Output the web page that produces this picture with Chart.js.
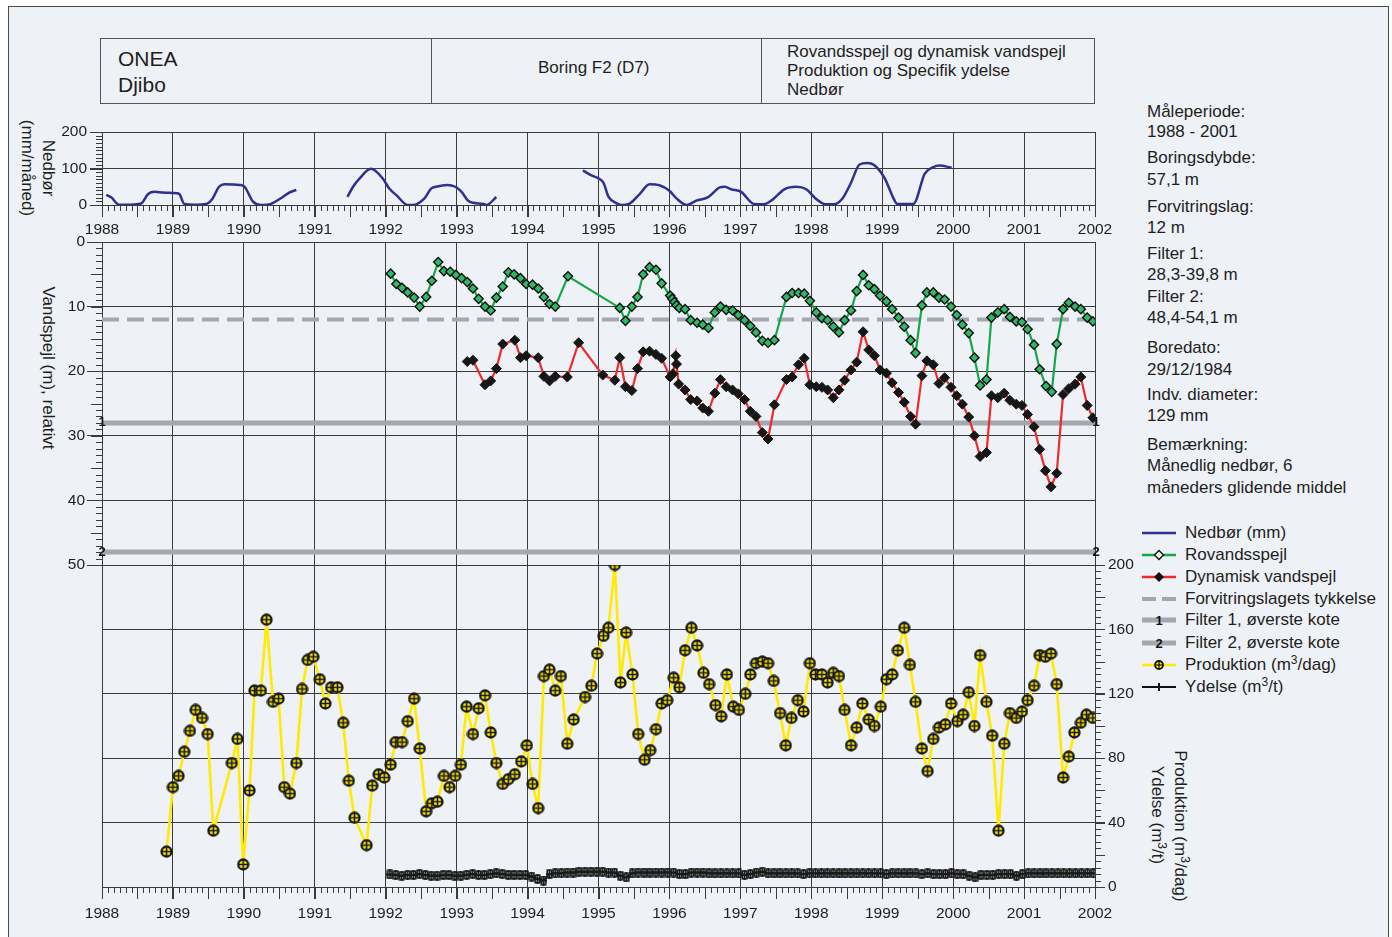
<!DOCTYPE html>
<html>
<head>
<meta charset="utf-8">
<script src="https://cdn.jsdelivr.net/npm/chart.js"></script>
<style>
body{margin:0;background:#fff;font-family:"Liberation Sans",Arial,sans-serif;color:#1e1e1e}
#page{position:relative;width:1392px;height:937px;overflow:hidden;background:#fff}
#frame{position:absolute;left:8px;top:6px;width:1379px;height:940px;border:1px solid #4a4a4a;background:#eef1f6}
canvas{position:absolute;left:0}
.t{position:absolute;white-space:nowrap;font-size:17px;line-height:20px}
.rot{position:absolute;white-space:nowrap;font-size:17px;line-height:20px;transform:translate(-50%,-50%) rotate(90deg)}
#head{position:absolute;left:100px;top:38px;width:993px;height:64px;border:1px solid #555}
.div{position:absolute;top:0;width:1px;height:64px;background:#555}
.lg{position:absolute;left:1142px;height:20px;white-space:nowrap;font-size:17px;line-height:20px}
.lg svg{position:absolute;left:0;top:4px}
.lg span{position:absolute;left:43px;top:0}
sup{font-size:12px;vertical-align:6px;line-height:0}
</style>
</head>
<body>
<div id="page">
<div id="frame"></div>

<div id="head">
  <div class="div" style="left:330px"></div>
  <div class="div" style="left:660px"></div>
</div>
<div class="t" style="left:118px;top:47px;font-size:21px;line-height:24px">ONEA</div>
<div class="t" style="left:118px;top:73px;font-size:21px;line-height:24px">Djibo</div>
<div class="t" style="left:538px;top:58px">Boring F2 (D7)</div>
<div class="t" style="left:787px;top:42px;line-height:19px">Rovandsspejl og dynamisk vandspejl<br>Produktion og Specifik ydelse<br>Nedbør</div>

<div class="t" style="left:1147px;top:102px">Måleperiode:</div>
<div class="t" style="left:1147px;top:122px">1988 - 2001</div>
<div class="t" style="left:1147px;top:148px">Boringsdybde:</div>
<div class="t" style="left:1147px;top:170px">57,1 m</div>
<div class="t" style="left:1147px;top:197px">Forvitringslag:</div>
<div class="t" style="left:1147px;top:218px">12 m</div>
<div class="t" style="left:1147px;top:244px">Filter 1:</div>
<div class="t" style="left:1147px;top:265px">28,3-39,8 m</div>
<div class="t" style="left:1147px;top:287px">Filter 2:</div>
<div class="t" style="left:1147px;top:308px">48,4-54,1 m</div>
<div class="t" style="left:1147px;top:338px">Boredato:</div>
<div class="t" style="left:1147px;top:360px">29/12/1984</div>
<div class="t" style="left:1147px;top:385px">Indv. diameter:</div>
<div class="t" style="left:1147px;top:406px">129 mm</div>
<div class="t" style="left:1147px;top:435px">Bemærkning:</div>
<div class="t" style="left:1147px;top:456px">Månedlig nedbør, 6</div>
<div class="t" style="left:1147px;top:478px">måneders glidende middel</div>

<div class="rot" style="left:48px;top:168px">Nedbør</div>
<div class="rot" style="left:27px;top:168px">(mm/måned)</div>
<div class="rot" style="left:48px;top:368px">Vandspejl (m), relativt</div>
<div class="rot" style="left:1180px;top:826px">Produktion (m<sup>3</sup>/dag)</div>
<div class="rot" style="left:1157px;top:815px">Ydelse (m<sup>3</sup>/t)</div>

<div class="lg" style="top:523px"><svg width="36" height="12"><line x1="0" y1="6" x2="34" y2="6" stroke="#2e3192" stroke-width="2.5"/></svg><span>Nedbør (mm)</span></div>
<div class="lg" style="top:545px"><svg width="36" height="12"><line x1="0" y1="6" x2="34" y2="6" stroke="#12a84a" stroke-width="2.5"/><polygon points="17,1.5 21.5,6 17,10.5 12.5,6" fill="#f4f8f4" stroke="#111" stroke-width="1.4"/></svg><span>Rovandsspejl</span></div>
<div class="lg" style="top:567px"><svg width="36" height="12"><line x1="0" y1="6" x2="34" y2="6" stroke="#ee2a2a" stroke-width="2.5"/><polygon points="17,1 22,6 17,11 12,6" fill="#111"/></svg><span>Dynamisk vandspejl</span></div>
<div class="lg" style="top:589px"><svg width="36" height="12"><line x1="0" y1="6" x2="34" y2="6" stroke="#a3a8b0" stroke-width="4" stroke-dasharray="14 6"/></svg><span>Forvitringslagets tykkelse</span></div>
<div class="lg" style="top:610px"><svg width="36" height="14"><line x1="0" y1="6" x2="34" y2="6" stroke="#a3a8b0" stroke-width="5"/><text x="17" y="11" font-size="13" font-weight="bold" text-anchor="middle" fill="#111" font-family="Liberation Sans, Arial">1</text></svg><span>Filter 1, øverste kote</span></div>
<div class="lg" style="top:633px"><svg width="36" height="14"><line x1="0" y1="6" x2="34" y2="6" stroke="#a3a8b0" stroke-width="5"/><text x="17" y="11" font-size="13" font-weight="bold" text-anchor="middle" fill="#111" font-family="Liberation Sans, Arial">2</text></svg><span>Filter 2, øverste kote</span></div>
<div class="lg" style="top:655px"><svg width="36" height="12"><line x1="0" y1="6" x2="34" y2="6" stroke="#ffeb00" stroke-width="2.5"/><circle cx="17" cy="6" r="4" fill="#ffeb00" stroke="#111" stroke-width="1.8"/><line x1="13" y1="6" x2="21" y2="6" stroke="#111" stroke-width="1.2"/><line x1="17" y1="2" x2="17" y2="10" stroke="#111" stroke-width="1.2"/></svg><span>Produktion (m<sup>3</sup>/dag)</span></div>
<div class="lg" style="top:677px"><svg width="36" height="12"><line x1="0" y1="6" x2="34" y2="6" stroke="#111" stroke-width="2.2"/><line x1="17" y1="2" x2="17" y2="10" stroke="#111" stroke-width="2"/><line x1="14" y1="6" x2="20" y2="6" stroke="#111" stroke-width="2"/></svg><span>Ydelse (m<sup>3</sup>/t)</span></div>

<canvas id="c1" width="1392" height="127" style="top:118px"></canvas>
<canvas id="c2" width="1392" height="352" style="top:228px"></canvas>
<canvas id="c3" width="1392" height="387" style="top:550px"></canvas>
</div>

<script>
// Nedbør (mm/måned), 6 mdr glidende middel - null = hul i serien
const nedborDates = [1988.06,1988.13,1988.24,1988.40,1988.55,1988.65,1988.74,1988.86,1989.05,1989.09,1989.16,1989.30,1989.47,1989.56,1989.65,1989.73,1989.94,1990.01,1990.13,1990.24,1990.38,1990.55,1990.64,1990.74,
  1991.0,
  1991.46,1991.54,1991.63,1991.79,1991.96,1992.05,1992.15,1992.31,1992.38,1992.55,1992.64,1992.71,1992.87,1992.98,1993.07,1993.16,1993.23,1993.38,1993.42,1993.56,
  1994.0,
  1994.78,1994.90,1995.00,1995.07,1995.14,1995.25,1995.32,1995.44,1995.58,1995.72,1995.86,1996.00,1996.10,1996.24,1996.38,1996.54,1996.71,1996.78,1996.87,1997.01,1997.19,1997.33,1997.45,1997.62,1997.79,1997.93,1998.06,1998.20,1998.32,1998.44,1998.56,1998.68,1998.79,1998.89,1999.03,1999.17,1999.21,1999.44,1999.60,1999.72,1999.81,1999.98];
const nedborValues = [28,21,1,1,4,30,36,34,32,30,3,1,3,18,50,57,55,50,9,0,3,22,34,41,
  null,
  22,50,72,99,72,45,27,0,0,19,45,50,55,50,36,12,6,3,0,22,
  null,
  95,81,73,61,23,5,0,4,30,57,54,39,18,0,12,21,48,50,43,36,3,2,14,43,50,43,18,2,2,18,61,111,115,109,75,14,3,3,86,104,108,102];

// Rovandsspejl (m)
const roDates = [1992.07,1992.15,1992.23,1992.31,1992.40,1992.48,1992.57,1992.65,1992.74,1992.82,1992.91,1992.99,1993.07,1993.15,1993.23,1993.31,1993.40,1993.48,1993.56,1993.65,1993.73,1993.81,1993.90,1993.98,1994.07,1994.15,1994.23,1994.31,1994.39,1994.57,
  1995.30,1995.38,1995.47,1995.55,1995.63,1995.72,1995.81,1995.89,1996.01,1996.04,1996.07,1996.10,1996.14,1996.22,1996.30,1996.39,1996.47,1996.55,1996.64,1996.72,1996.80,1996.89,1996.97,1997.06,1997.14,1997.22,1997.31,1997.39,1997.48,
  1997.65,1997.73,1997.82,1997.90,1997.98,1998.07,1998.15,1998.23,1998.31,1998.39,1998.47,1998.56,1998.64,1998.73,1998.81,1998.89,1998.97,1999.06,1999.14,1999.23,1999.31,1999.40,1999.47,1999.56,1999.63,1999.72,1999.80,1999.88,1999.97,
  2000.05,2000.13,2000.22,2000.30,2000.38,2000.47,2000.54,2000.63,2000.72,2000.80,2000.89,2000.97,2001.05,2001.14,2001.22,2001.31,2001.39,2001.46,2001.55,2001.63,2001.72,2001.80,2001.89,2001.97];
const roValues = [4.9,6.5,7.1,7.8,8.6,10.0,8.5,6.0,3.1,4.5,4.6,5.1,5.6,6.2,7.2,8.8,10.0,10.6,8.6,6.9,4.7,5.0,5.6,6.5,6.6,7.2,8.5,9.6,10.0,5.3,
  10.2,12.2,10.0,8.5,5.0,3.9,4.3,6.4,8.3,8.8,9.3,9.8,10.2,10.4,12.1,12.5,12.8,13.3,10.9,10.0,10.5,10.6,11.3,12.1,13.0,14.0,15.3,15.6,15.2,
  8.5,7.9,7.9,8.0,9.1,10.9,11.8,12.1,13.1,14.0,12.1,10.6,7.6,5.1,6.7,7.3,8.3,9.2,10.4,11.7,13.1,15.2,17.2,9.8,7.8,7.8,8.6,8.9,10.0,
  11.3,12.8,14.1,17.9,22.2,21.3,11.7,10.9,10.4,11.6,12.3,12.4,13.5,15.9,19.7,22.3,23.2,15.8,10.4,9.4,10.0,10.4,11.7,12.3];

// Dynamisk vandspejl (m)
const dynDates = [1993.15,1993.23,1993.40,1993.48,1993.56,1993.65,1993.82,1993.90,1993.98,1994.15,1994.23,1994.31,1994.39,1994.56,1994.72,
  1995.06,1995.23,1995.30,1995.38,1995.47,1995.55,1995.63,1995.72,1995.81,1995.89,1996.01,1996.05,1996.09,1996.10,1996.13,1996.22,1996.30,1996.39,1996.47,1996.55,1996.64,1996.72,1996.80,1996.89,1996.97,1997.06,1997.14,1997.22,1997.31,1997.39,1997.48,
  1997.65,1997.73,1997.82,1997.90,1997.98,1998.07,1998.15,1998.23,1998.31,1998.39,1998.47,1998.56,1998.64,1998.73,1998.81,1998.89,1998.97,1999.06,1999.14,1999.23,1999.31,1999.40,1999.47,1999.56,1999.63,1999.72,1999.80,1999.88,1999.97,
  2000.05,2000.13,2000.22,2000.30,2000.38,2000.47,2000.54,2000.63,2000.72,2000.80,2000.89,2000.97,2001.05,2001.14,2001.22,2001.30,2001.38,2001.46,2001.55,2001.63,2001.72,2001.80,2001.89,2001.97];
const dynValues = [18.5,18.3,22.1,21.5,19.6,15.8,15.2,17.9,17.6,17.9,20.8,21.5,20.8,20.9,15.6,
  20.6,21.4,17.9,22.4,23.0,19.6,17.0,16.9,17.4,18.0,20.9,20.4,17.6,18.9,22.0,22.9,24.4,24.6,25.7,26.2,23.4,21.3,22.4,22.9,23.5,24.4,26.2,27.0,29.5,30.5,25.2,
  21.3,20.9,19.0,18.0,22.1,22.4,22.5,22.9,24.1,22.9,21.4,19.8,18.6,13.9,16.7,17.6,19.8,20.3,21.8,23.3,24.8,27.0,28.2,20.7,18.4,19.0,21.9,21.0,22.5,
  23.8,25.1,27.1,30.0,33.2,32.6,23.8,24.1,23.4,24.5,25.1,25.3,26.7,28.6,32.1,35.4,37.9,35.8,23.6,22.7,22.0,20.9,25.3,27.2];

// Referencelinjer (m)
const forvitringLevel = 12;
const filterLevels = [28, 48];
const filterNames = ['1', '2'];

// Produktion (m3/dag)
const prodDates = [1988.91,1989.00,1989.08,1989.16,1989.24,1989.32,1989.41,1989.49,1989.57,1989.83,1989.91,1989.99,1990.08,1990.15,1990.24,1990.32,1990.41,1990.49,1990.57,1990.65,1990.74,1990.82,1990.90,1990.98,
  1991.07,1991.15,1991.23,1991.32,1991.40,1991.48,1991.56,1991.73,1991.81,1991.90,1991.98,1992.07,1992.14,1992.23,1992.31,1992.40,1992.48,1992.57,1992.65,1992.73,1992.82,1992.90,1992.98,
  1993.06,1993.14,1993.23,1993.31,1993.40,1993.48,1993.56,1993.65,1993.73,1993.82,1993.91,1993.99,1994.07,1994.15,1994.23,1994.31,1994.39,1994.47,1994.56,1994.65,1994.81,1994.90,1994.98,
  1995.07,1995.14,1995.23,1995.31,1995.39,1995.48,1995.56,1995.65,1995.73,1995.81,1995.89,1995.97,1996.06,1996.14,1996.22,1996.31,1996.39,1996.48,1996.56,1996.65,1996.73,1996.81,1996.90,1996.98,
  1997.07,1997.14,1997.22,1997.31,1997.39,1997.47,1997.56,1997.64,1997.72,1997.81,1997.89,1997.98,1998.06,1998.15,1998.23,1998.31,1998.39,1998.47,1998.56,1998.64,1998.72,1998.81,1998.89,1998.98,
  1999.06,1999.14,1999.22,1999.31,1999.39,1999.47,1999.56,1999.64,1999.72,1999.80,1999.89,1999.97,2000.06,2000.14,2000.22,2000.30,2000.38,2000.47,2000.55,2000.64,2000.72,2000.80,2000.89,2000.97,
  2001.05,2001.14,2001.22,2001.30,2001.38,2001.46,2001.55,2001.63,2001.71,2001.80,2001.88,2001.97];
const prodValues = [22,62,69,84,97,110,105,95,35,77,92,14,60,122,122,166,115,117,62,58,77,123,141,143,
  129,114,124,124,102,66,43,26,63,70,68,76,90,90,103,117,86,47,52,53,69,62,69,
  76,112,95,111,119,96,77,64,67,70,78,88,64,49,131,135,122,131,89,104,118,125,145,
  156,161,200,127,158,132,95,79,85,98,114,116,130,124,147,161,150,133,126,113,106,132,112,110,
  120,132,139,140,139,128,108,88,105,116,109,139,132,132,127,133,131,110,88,99,114,104,100,112,
  129,132,147,161,138,115,86,72,92,99,101,114,103,107,121,100,144,115,94,35,89,108,105,109,
  116,125,144,143,145,126,68,81,96,102,107,105];

// Ydelse (m3/t), en værdi pr. måned
const ydelseYears = [1992,1993,1994,1995,1996,1997,1998,1999,2000,2001];
const ydelse1992 = [7.8,7.5,7.0,7.5,7.5,8.0,7.5,7.0,7.0,7.5,7.5,7.0];
const ydelse1993 = [7.0,7.5,8.0,7.5,7.5,8.0,8.5,8.0,7.5,7.5,7.5,7.5];
const ydelse1994 = [6.5,5.0,4.0,8.0,8.5,8.5,9.0,9.0,9.5,9.5,9.5,9.5];
const ydelse1995 = [9.5,9.0,9.0,7.0,6.0,8.5,9.0,9.0,9.0,9.0,9.0,9.0];
const ydelse1996 = [9.0,8.0,8.0,9.0,9.0,9.0,8.5,8.5,8.5,8.5,8.5,8.5];
const ydelse1997 = [7.5,8.0,9.0,9.5,8.5,8.5,8.5,8.5,8.5,8.5,8.0,8.5];
const ydelse1998 = [8.5,8.5,8.5,8.5,8.5,8.5,8.5,8.5,8.5,8.5,8.5,8.5];
const ydelse1999 = [8.0,8.5,8.5,8.5,8.5,8.5,8.0,8.5,8.0,8.0,8.0,8.5];
const ydelse2000 = [8.0,8.0,7.0,6.0,7.5,7.5,7.5,8.0,8.0,8.0,7.0,8.0];
const ydelse2001 = [8.5,8.5,8.5,8.5,8.5,8.5,8.5,8.5,8.5,8.5,8.5,8.5];
const ydelseRows = [ydelse1992,ydelse1993,ydelse1994,ydelse1995,ydelse1996,ydelse1997,ydelse1998,ydelse1999,ydelse2000,ydelse2001];

const xMin = 1988, xMax = 2002;

Chart.defaults.font.family = '"Liberation Sans", Arial, sans-serif';
Chart.defaults.font.size = 15.5;
Chart.defaults.color = '#1e1e1e';

const pairs = (xs, ys) => xs.map((x, i) => ({x: x, y: ys[i]}));
const ydelseData = [];
ydelseYears.forEach((yr, r) => ydelseRows[r].forEach((v, m) => ydelseData.push({x: yr + (m + 0.7) / 12, y: v})));

// markør-billeder
function prodMarker() {
  const c = document.createElement('canvas');
  c.width = 13; c.height = 13;
  const g = c.getContext('2d');
  g.beginPath(); g.arc(6.5, 6.5, 5, 0, Math.PI * 2);
  g.fillStyle = '#ffeb00'; g.fill();
  g.lineWidth = 2.3; g.strokeStyle = '#1a1a1a'; g.stroke();
  g.lineWidth = 1.6;
  g.beginPath(); g.moveTo(1.5, 6.5); g.lineTo(11.5, 6.5); g.moveTo(6.5, 1.5); g.lineTo(6.5, 11.5); g.stroke();
  return c;
}
function ydelseMarker() {
  const c = document.createElement('canvas');
  c.width = 7; c.height = 10;
  const g = c.getContext('2d');
  g.strokeStyle = '#1a1a1a'; g.lineWidth = 1.6;
  g.strokeRect(1.2, 1.2, 4.6, 7.6);
  g.lineWidth = 2;
  g.beginPath(); g.moveTo(0, 5); g.lineTo(7, 5); g.moveTo(3.5, 0); g.lineTo(3.5, 10); g.stroke();
  return c;
}

const minorTicks = {
  id: 'minorTicks',
  afterDraw(chart, args, o) {
    const ctx = chart.ctx;
    ctx.save();
    ctx.strokeStyle = '#3a3a3a';
    ctx.lineWidth = 1;
    (o.items || []).forEach(m => {
      const s = chart.scales[m.scale];
      const n = Math.round((s.max - s.min) / m.step);
      for (let i = 0; i <= n; i++) {
        const len = (i % m.every === 0) ? m.long : m.short;
        const p = Math.round(s.getPixelForValue(s.min + i * m.step)) + 0.5;
        ctx.beginPath();
        if (m.side === 'bottom') { ctx.moveTo(p, s.top); ctx.lineTo(p, s.top + len); }
        else if (m.side === 'left') { ctx.moveTo(s.right - len, p); ctx.lineTo(s.right, p); }
        else { ctx.moveTo(s.left, p); ctx.lineTo(s.left + len, p); }
        ctx.stroke();
      }
    });
    ctx.restore();
  }
};

const filterLabels = {
  id: 'filterLabels',
  afterDatasetsDraw(chart) {
    const s = chart.scales.y, ctx = chart.ctx, a = chart.chartArea;
    ctx.save();
    ctx.font = 'bold 13px "Liberation Sans", Arial';
    ctx.fillStyle = '#111';
    ctx.textAlign = 'center';
    ctx.textBaseline = 'middle';
    filterLevels.forEach((lv, i) => {
      const y = s.getPixelForValue(lv);
      ctx.fillText(filterNames[i], a.left, y);
      ctx.fillText(filterNames[i], a.right + 1, y);
    });
    ctx.restore();
  }
};

const gridCol = '#3c3c3c';

function xScale(showLabels, height, pad) {
  return {
    type: 'linear', min: xMin, max: xMax,
    ticks: {display: showLabels, stepSize: 1, autoSkip: false, maxRotation: 0, padding: pad, callback: v => String(v)},
    grid: {color: gridCol, lineWidth: 1, tickLength: showLabels ? 12 : 0, drawTicks: showLabels},
    border: {color: gridCol},
    afterFit(s) { s.height = height; }
  };
}

const common = {
  responsive: false, animation: false, devicePixelRatio: 1,
  events: []
};

// Nedbør
new Chart(document.getElementById('c1'), {
  type: 'line',
  data: {datasets: [{
    data: pairs(nedborDates, nedborValues),
    borderColor: '#2e3192', borderWidth: 2.5, pointRadius: 0,
    spanGaps: false, cubicInterpolationMode: 'monotone'
  }]},
  options: Object.assign({}, common, {
    layout: {padding: {top: 14, left: 0, right: 297, bottom: 0}},
    plugins: {legend: {display: false}, tooltip: {enabled: false},
      minorTicks: {items: [
        {scale: 'x', side: 'bottom', step: 1 / 12, every: 6, long: 12, short: 6},
        {scale: 'y', side: 'left', step: 10, every: 10, long: 12, short: 6}
      ]}},
    scales: {
      x: xScale(true, 40, 3),
      y: {min: 0, max: 200,
        ticks: {stepSize: 100, padding: 3, callback: v => String(v)},
        grid: {color: gridCol, tickLength: 12}, border: {color: gridCol},
        afterFit(s) { s.width = 102; }}
    }
  }),
  plugins: [minorTicks]
});

// Vandspejl
const flat = (lv) => [{x: xMin, y: lv}, {x: xMax, y: lv}];
new Chart(document.getElementById('c2'), {
  type: 'line',
  data: {datasets: [
    {label: 'Rovandsspejl', data: pairs(roDates, roValues), order: 0,
      borderColor: '#12a84a', borderWidth: 2.2, pointStyle: 'rectRot', pointRadius: 4.6,
      pointBackgroundColor: '#2fb868', pointBorderColor: '#111', pointBorderWidth: 1.4},
    {label: 'Dynamisk vandspejl', data: pairs(dynDates, dynValues), order: 1,
      borderColor: '#ee2a2a', borderWidth: 2.2, pointStyle: 'rectRot', pointRadius: 5,
      pointBackgroundColor: '#161616', pointBorderColor: '#161616', pointBorderWidth: 1},
    {label: 'Forvitringslagets tykkelse', data: flat(forvitringLevel), order: 5,
      borderColor: '#a3a8b0', borderWidth: 4, borderDash: [17, 8], pointRadius: 0},
    {label: 'Filter 1', data: flat(filterLevels[0]), order: 6,
      borderColor: '#a3a8b0', borderWidth: 5, pointRadius: 0},
    {label: 'Filter 2', data: flat(filterLevels[1]), order: 7,
      borderColor: '#a3a8b0', borderWidth: 5, pointRadius: 0}
  ]},
  options: Object.assign({}, common, {
    layout: {padding: {top: 14, left: 0, right: 297, bottom: 0}},
    plugins: {legend: {display: false}, tooltip: {enabled: false},
      minorTicks: {items: [
        {scale: 'y', side: 'left', step: 1, every: 5, long: 11, short: 6}
      ]}},
    scales: {
      x: xScale(false, 15, 0),
      y: {min: 0, max: 50, reverse: true,
        ticks: {stepSize: 10, padding: 2, callback: v => String(v)},
        grid: {color: gridCol, tickLength: 15}, border: {color: gridCol},
        afterFit(s) { s.width = 102; }}
    }
  }),
  plugins: [minorTicks, filterLabels]
});

// Produktion og ydelse
new Chart(document.getElementById('c3'), {
  type: 'line',
  data: {datasets: [
    {label: 'Produktion', data: pairs(prodDates, prodValues), order: 0,
      borderColor: '#ffeb00', borderWidth: 2.6, pointStyle: prodMarker(), pointRadius: 5},
    {label: 'Ydelse', data: ydelseData, order: 1,
      borderColor: '#1a1a1a', borderWidth: 2, pointStyle: ydelseMarker(), pointRadius: 4}
  ]},
  options: Object.assign({}, common, {
    layout: {padding: {top: 15, left: 102, right: 0, bottom: 0}},
    plugins: {legend: {display: false}, tooltip: {enabled: false},
      minorTicks: {items: [
        {scale: 'x', side: 'bottom', step: 1 / 12, every: 6, long: 12, short: 6},
        {scale: 'y', side: 'right', step: 4, every: 5, long: 10, short: 6}
      ]}},
    scales: {
      x: xScale(true, 50, 5),
      y: {position: 'right', min: 0, max: 200,
        ticks: {stepSize: 40, padding: 3, callback: v => String(v)},
        grid: {color: gridCol, tickLength: 10}, border: {color: gridCol},
        afterFit(s) { s.width = 297; }}
    }
  }),
  plugins: [minorTicks]
});
</script>
</body>
</html>
